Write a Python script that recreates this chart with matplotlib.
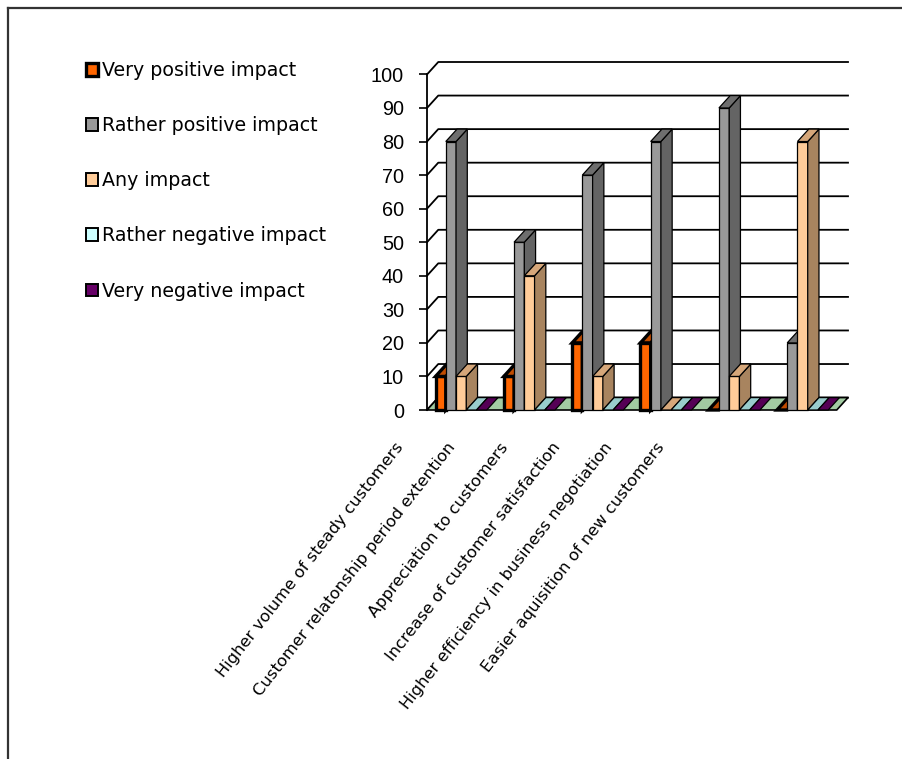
import matplotlib
matplotlib.use("Agg")
import matplotlib.pyplot as plt
from matplotlib.patches import Polygon, Patch

# data
categories = [
    "Higher volume of steady customers",
    "Customer relatonship period extention",
    "Appreciation to customers",
    "Increase of customer satisfaction",
    "Higher efficiency in business negotiation",
    "Easier aquisition of new customers",
]
series = [
    "Very positive impact",
    "Rather positive impact",
    "Any impact",
    "Rather negative impact",
    "Very negative impact",
]
very_positive = [10, 10, 20, 20, 0, 0]
rather_positive = [80, 50, 70, 80, 90, 20]
any_impact = [10, 40, 10, 0, 10, 80]
rather_negative = [0, 0, 0, 0, 0, 0]
very_negative = [0, 0, 0, 0, 0, 0]
yticks = list(range(0, 101, 10))

values = [very_positive, rather_positive, any_impact, rather_negative, very_negative]
front_c = ["#FF6600", "#999999", "#FFCC99", "#CCFFFF", "#660066"]
top_c = ["#C04C00", "#6E6E6E", "#D6A77A", "#99CCCC", "#550055"]
side_c = ["#A84300", "#646464", "#A8845F", "#88B8B8", "#440044"]
edge_w = [2.4, 0.9, 0.9, 0.9, 0.9]

W, H = 903, 759
fig = plt.figure(figsize=(W / 100, H / 100), dpi=100)

# outer frame (cut on right/bottom like the original)
fig.add_artist(plt.Line2D([7.5 / W, 7.5 / W], [0, 1 - 8 / H], color="#333333", lw=1.6))
fig.add_artist(plt.Line2D([7.5 / W, 1], [1 - 8 / H, 1 - 8 / H], color="#333333", lw=1.6))

ax = fig.add_axes([427 / W, 1 - 410 / H, 421 / W, 348 / H])
n = len(categories)
DX, DY = 0.165, 3.7   # depth offset (x in groups, y in value units)
bw = 0.15
ax.set_xlim(0, n + DX)
ax.set_ylim(0, 100 + DY)
for s in ax.spines.values():
    s.set_visible(False)
ax.set_xticks([])
ax.set_yticks(yticks)
ax.set_yticklabels([str(t) for t in yticks], fontfamily="Liberation Sans", fontsize=14.3)
ax.tick_params(axis="y", length=5.5, width=1.2, pad=11)

# walls / gridlines
ax.plot([0, 0], [0, 100], color="black", lw=1.3, clip_on=False)
for t in yticks:
    ax.plot([0, DX, n + DX], [t, t + DY, t + DY], color="black", lw=1.3, clip_on=False, zorder=1)

# floor
ax.add_patch(Polygon([(0, 0), (n, 0), (n + DX, DY), (DX, DY)], closed=True,
                     facecolor="#A2CBA2", edgecolor="black", lw=1.2, zorder=2, clip_on=False))

z = 3
for g in range(n):
    x0 = g + (1 - 5 * bw) / 2
    for k in range(5):
        x = x0 + k * bw
        h = values[k][g]
        lw = edge_w[k]
        if h > 0:
            ax.bar(x, h, width=bw, align="edge", color=front_c[k], edgecolor="black",
                   lw=lw, zorder=z, clip_on=False)
            ax.add_patch(Polygon([(x + bw, 0), (x + bw + DX, DY), (x + bw + DX, h + DY), (x + bw, h)],
                                 closed=True, facecolor=side_c[k], edgecolor="black", lw=lw,
                                 zorder=z, clip_on=False))
        ax.add_patch(Polygon([(x, h), (x + bw, h), (x + bw + DX, h + DY), (x + DX, h + DY)],
                             closed=True, facecolor=top_c[k], edgecolor="black", lw=lw,
                             zorder=z, clip_on=False))
        z += 1

# category labels
for i, lab in enumerate(categories):
    fig.text((406 + 52.4 * i) / W, 1 - 440 / H, lab, rotation=52, ha="right", va="top",
             fontsize=11.8, fontfamily="DejaVu Sans")

# legend
handles = [Patch(facecolor=front_c[k], edgecolor="black", lw=2.4 if k == 0 else 1.4)
           for k in range(5)]
fig.legend(handles, series, loc="upper left", bbox_to_anchor=(86 / W, 1 - 61 / H),
           bbox_transform=fig.transFigure, frameon=False,
           prop={"family": "DejaVu Sans", "size": 13.7},
           handlelength=0.65, handleheight=0.65, handletextpad=0.2,
           labelspacing=1.9, borderpad=0, borderaxespad=0)

fig.savefig("out.png", dpi=100)
